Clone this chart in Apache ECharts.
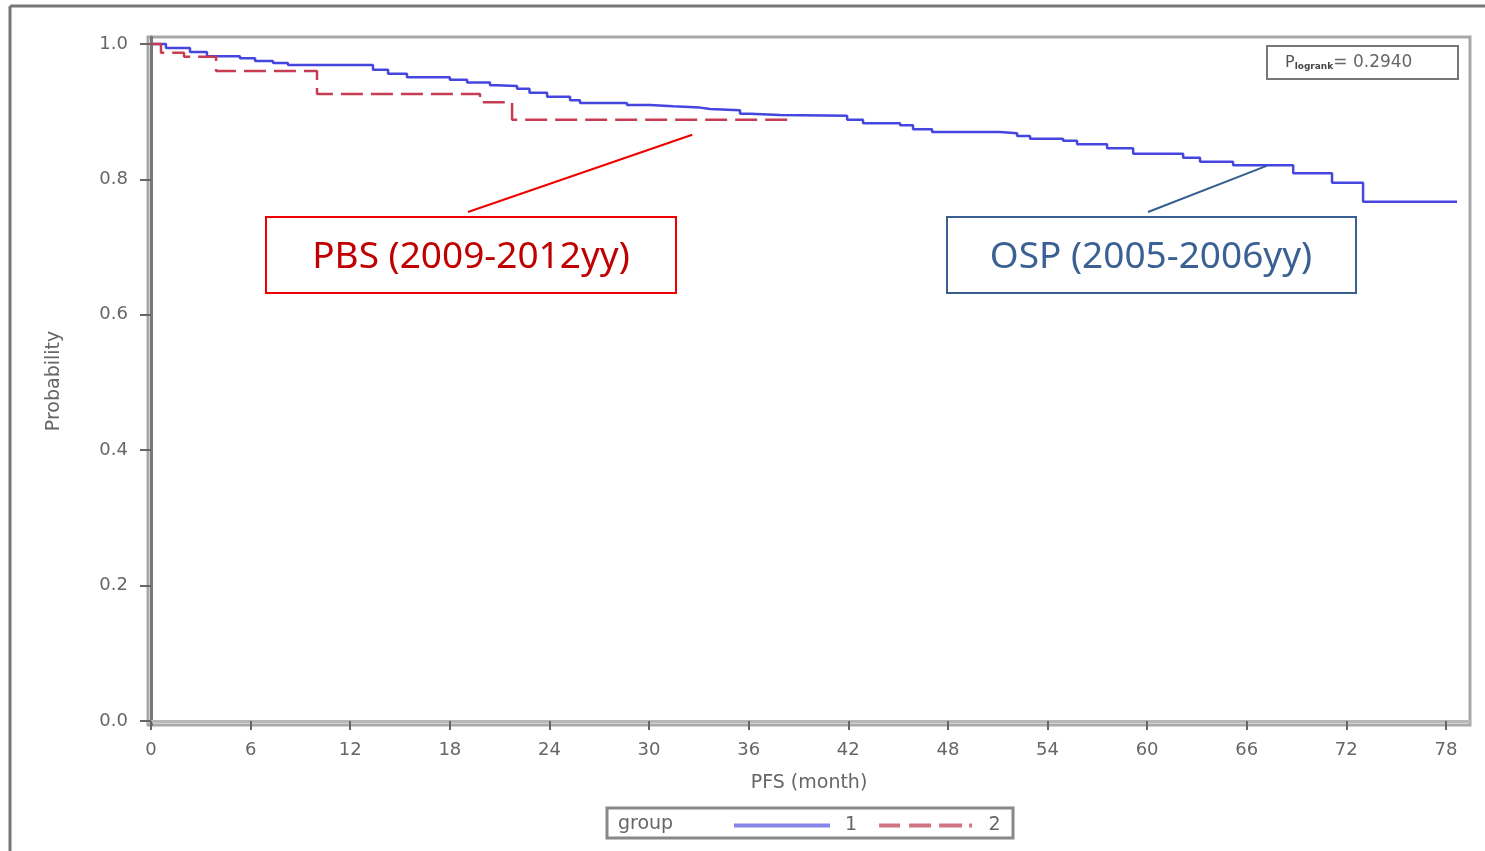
<!DOCTYPE html>
<html>
<head>
<meta charset="utf-8">
<script src="https://cdn.jsdelivr.net/npm/echarts@6/dist/echarts.min.js"></script>
<style>
html,body{margin:0;padding:0;background:#fff;}
#main{width:1485px;height:851px;}
</style>
</head>
<body>
<div id="main"></div>
<script>
// Group 1 (OSP) Kaplan-Meier steps: time of drop (months) and new survival
const blueTimes = [0, 0.9, 2.35, 3.37, 5.36, 6.27, 7.35, 8.25, 13.37, 14.28, 15.42, 18.0, 19.04, 20.42, 20.84, 22.05, 22.8, 23.86, 25.24, 25.84, 28.67, 30.06, 31.45, 33.07, 33.67, 35.48, 36.08, 37.89, 41.93, 42.89, 45.12, 45.9, 47.05, 51.14, 52.17, 52.95, 54.94, 55.78, 57.59, 59.16, 62.17, 63.19, 65.18, 68.8, 71.14, 73.01, 78.67];
const blueProbs = [1.0, 0.994, 0.988, 0.982, 0.979, 0.975, 0.972, 0.969, 0.962, 0.956, 0.951, 0.947, 0.943, 0.939, 0.938, 0.934, 0.928, 0.922, 0.917, 0.913, 0.910, 0.908, 0.906, 0.904, 0.902, 0.897, 0.895, 0.894, 0.888, 0.883, 0.880, 0.874, 0.870, 0.868, 0.864, 0.860, 0.857, 0.852, 0.846, 0.838, 0.832, 0.826, 0.821, 0.809, 0.795, 0.767, 0.767];
// Group 2 (PBS)
const redTimes = [0, 0.6, 1.99, 3.92, 10.0, 19.82, 21.75, 38.5];
const redProbs = [1.0, 0.987, 0.981, 0.960, 0.926, 0.914, 0.888, 0.888];

const xTicks = [0, 6, 12, 18, 24, 30, 36, 42, 48, 54, 60, 66, 72, 78];
const yTicks = [0, 0.2, 0.4, 0.6, 0.8, 1.0];
const seriesNames = ['1', '2'];
const pValueText = '= 0.2940';
const labelRed = 'PBS (2009-2012yy)';
const labelBlue = 'OSP (2005-2006yy)';

const chart = echarts.init(document.getElementById('main'), null, {renderer: 'canvas'});
const pair = (t, p) => t.map((v, i) => [v, p[i]]);
const axisFont = 'DejaVu Sans';
const grey = '#666';

const option = {
  animation: false,
  backgroundColor: '#fff',
  grid: {left: 148, right: 15, top: 37, bottom: 126, show: true, borderColor: '#a8a8a8', borderWidth: 3, containLabel: false},
  xAxis: {
    type: 'value', min: -0.181, max: 79.45,
    name: 'PFS (month)', nameLocation: 'middle', nameGap: 49,
    nameTextStyle: {fontFamily: axisFont, fontSize: 19, color: grey},
    axisLine: {show: true, lineStyle: {color: '#b8b8b8', width: 3}},
    axisTick: {show: true, customValues: xTicks, length: 9, lineStyle: {color: '#666', width: 2}},
    axisLabel: {customValues: xTicks, margin: 16, fontFamily: axisFont, fontSize: 18, color: grey},
    splitLine: {show: false}
  },
  yAxis: {
    type: 'value', min: -0.0059, max: 1.0103,
    name: 'Probability', nameLocation: 'middle', nameGap: 84, nameRotate: 90,
    nameTextStyle: {fontFamily: axisFont, fontSize: 19, color: grey},
    axisLine: {show: true, lineStyle: {color: '#777', width: 3}},
    axisTick: {show: true, customValues: yTicks, length: 11, lineStyle: {color: '#666', width: 2}},
    axisLabel: {customValues: yTicks, margin: 20, fontFamily: axisFont, fontSize: 18, color: grey,
      formatter: v => v.toFixed(1)},
    splitLine: {show: false}
  },
  legend: {
    left: 729, top: 811, itemWidth: 96, itemHeight: 4, itemGap: 22,
    data: [
      {name: seriesNames[0], icon: 'rect'},
      {name: seriesNames[1], icon: 'path://M0,0h21v4h-21z M30,0h22v4h-22z M60,0h23v4h-23z M90,0h3v4h-3z'}
    ],
    textStyle: {fontFamily: axisFont, fontSize: 19, color: grey, padding: [0, 0, 0, 10]}
  },
  series: [
    {name: seriesNames[0], type: 'line', step: 'end', symbol: 'none', data: pair(blueTimes, blueProbs),
     lineStyle: {color: '#4545df', width: 2.5}, itemStyle: {color: '#8585ea'}, z: 3},
    {name: seriesNames[1], type: 'line', step: 'end', symbol: 'none', data: pair(redTimes, redProbs),
     lineStyle: {color: '#c63c52', width: 2.5, type: [22, 8]}, itemStyle: {color: '#d07482'}, z: 4}
  ]
};
chart.setOption(option);

const redTip = chart.convertToPixel({gridIndex: 0}, [32.6, 0.866]);
const blueTip = chart.convertToPixel({gridIndex: 0}, [67.2, 0.820]);

chart.setOption({
  graphic: [
    // outer frame
    {type: 'line', shape: {x1: 10, y1: 6, x2: 1485, y2: 6}, style: {stroke: '#777', lineWidth: 3}, silent: true},
    {type: 'line', shape: {x1: 10, y1: 6, x2: 10, y2: 851}, style: {stroke: '#777', lineWidth: 3}, silent: true},
    // p-value box
    {type: 'rect', shape: {x: 1267, y: 46, width: 191, height: 33}, style: {fill: '#fff', stroke: '#777', lineWidth: 2}, z: 10},
    {type: 'text', x: 1285, y: 63, z: 11, style: {
      text: '{p|P}{s|logrank}{n|' + pValueText + '}', verticalAlign: 'middle',
      rich: {
        p: {fontFamily: axisFont, fontSize: 16, fill: '#555'},
        s: {fontFamily: axisFont, fontSize: 9, fill: '#444', fontWeight: 'bold', padding: [8, 0, 0, 0]},
        n: {fontFamily: axisFont, fontSize: 17, fill: '#666'}
      }
    }},
    // red annotation
    {type: 'line', shape: {x1: 468, y1: 212, x2: redTip[0], y2: redTip[1]}, style: {stroke: '#ee0000', lineWidth: 2}, z: 10},
    {type: 'rect', shape: {x: 266, y: 217, width: 410, height: 76}, style: {fill: '#fff', stroke: '#ee0000', lineWidth: 2}, z: 10},
    {type: 'text', x: 471, y: 257, z: 11, style: {text: labelRed, fontFamily: 'Noto Sans', fontSize: 37, fill: '#c00000', align: 'center', verticalAlign: 'middle'}},
    // blue annotation
    {type: 'line', shape: {x1: 1148, y1: 212, x2: blueTip[0], y2: blueTip[1]}, style: {stroke: '#355f8d', lineWidth: 2}, z: 10},
    {type: 'rect', shape: {x: 947, y: 217, width: 409, height: 76}, style: {fill: '#fff', stroke: '#3a5f91', lineWidth: 2}, z: 10},
    {type: 'text', x: 1151, y: 257, z: 11, style: {text: labelBlue, fontFamily: 'Noto Sans', fontSize: 37, fill: '#3a6094', align: 'center', verticalAlign: 'middle'}},
    // legend frame
    {type: 'rect', shape: {x: 607, y: 808, width: 406, height: 30}, style: {fill: 'none', stroke: '#888', lineWidth: 3}, z: 10},
    {type: 'text', x: 618, y: 824, z: 11, style: {text: 'group', fontFamily: axisFont, fontSize: 19, fill: grey, verticalAlign: 'middle'}}
  ]
});
</script>
</body>
</html>
